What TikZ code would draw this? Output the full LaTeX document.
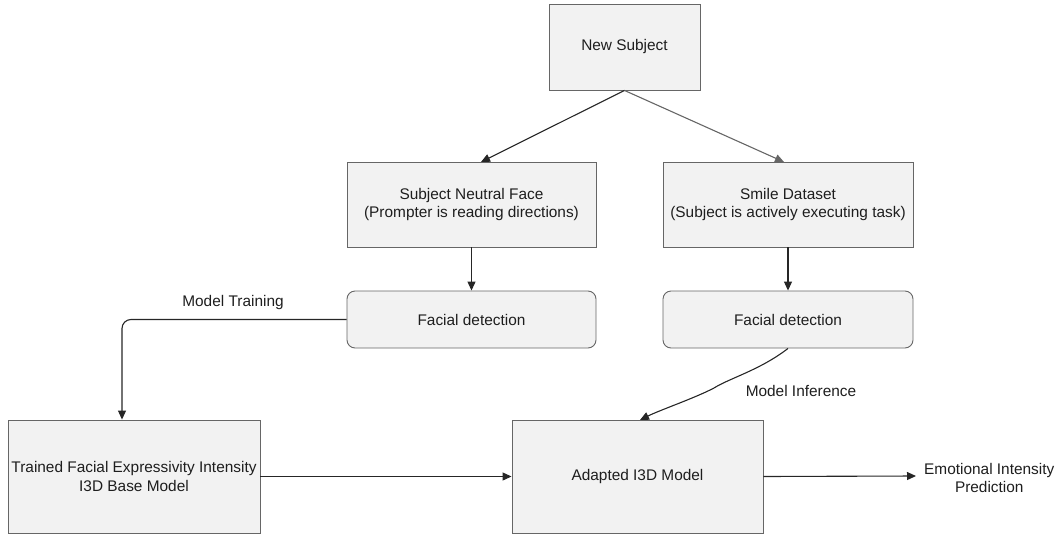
\documentclass[tikz,border=0pt]{standalone}
\usepackage{fontspec}
\setmainfont{Liberation Sans}
\usetikzlibrary{arrows.meta}
\definecolor{boxfill}{HTML}{F2F2F2}
\definecolor{boxline}{HTML}{666666}
\definecolor{txt}{HTML}{1E1E1E}
\begin{document}
\begin{tikzpicture}[x=1pt,y=-1pt,
  every node/.style={font=\fontsize{15.4}{18.5}\selectfont, text=txt},
  rectbox/.style={draw=boxline, fill=boxfill, line width=0.9pt, align=center, inner sep=0pt},
  roundbox/.style={rectbox, rounded corners=8pt},
  conn/.style={draw=black!85, line width=1.1pt, -{Triangle[length=9pt,width=8pt]}},
  lbl/.style={inner sep=1pt}
]
\useasboundingbox (0,0) rectangle (1058,536);
\node[rectbox, minimum width=151pt, minimum height=86pt] (new) at (624.5,47) {New Subject};
\node[rectbox, minimum width=249pt, minimum height=85pt] (neutral) at (471.5,204.5) {Subject Neutral Face\\(Prompter is reading directions)};
\node[rectbox, minimum width=250pt, minimum height=85pt] (smile) at (788,204.5) {Smile Dataset\\(Subject is actively executing task)};
\node[roundbox, minimum width=249pt, minimum height=57pt] (fdl) at (471.5,319.5) {Facial detection};
\node[roundbox, minimum width=250pt, minimum height=57pt] (fdr) at (788,319.5) {Facial detection};
\node[rectbox, minimum width=252pt, minimum height=113pt] (trained) at (134,476.5) {Trained Facial Expressivity Intensity\\I3D Base Model};
\node[rectbox, minimum width=251pt, minimum height=113pt] (adapted) at (637.5,476.5) {Adapted I3D Model};
\node[align=center, anchor=west, inner sep=0pt] (emo) at (924,478) {Emotional Intensity\\Prediction};
\coordinate (emoin) at (916,476);

\draw[conn] (new.south) -- (481,162);
\draw[conn, draw=black!60] (new.south) -- (784,162);
\draw[conn] (neutral.south) -- (fdl.north);
\draw[conn] (smile.south) -- (fdr.north);
\draw[conn, rounded corners=9pt] (fdl.west) -- (122,319.5) -- (trained.north -| 122,0);
\node[lbl] (mt) at (233,303) {Model Training};
\draw[conn] (fdr.south) .. controls (760,370) and (730,378) .. (714,388) .. controls (695,398) and (660,410) .. (640,420);
\node[lbl] (mi) at (801,391) {Model Inference};
\draw[conn] (trained.east) -- (adapted.west);
\draw[conn] (adapted.east) -- (emoin);
\end{tikzpicture}
\end{document}
